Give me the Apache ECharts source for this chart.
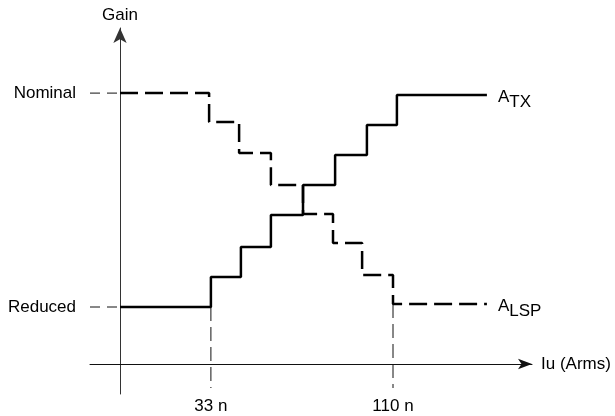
<!DOCTYPE html>
<html>
<head>
<meta charset="utf-8">
<script src="https://cdn.jsdelivr.net/npm/echarts@6.0.0/dist/echarts.min.js"></script>
<style>
  html, body { margin: 0; padding: 0; background: #ffffff; }
  #chart { width: 615px; height: 416px; }
</style>
</head>
<body>
<div id="chart"></div>
<script>
// ---- Data ----
// x in relative current units, y in relative gain units
const atxX = [0, 3.03, 4.03, 5.03, 6.1, 7.17, 8.23, 9.23, 12.23];
const atxY = [1.9, 2.9, 3.9, 4.97, 5.97, 6.97, 7.97, 8.97, 8.97];
const lspX = [0, 2.97, 3.97, 5.03, 6.1, 7.1, 8.07, 9.1, 12.23];
const lspY = [9.03, 8.07, 7.03, 5.97, 5.0, 4.03, 2.97, 2.0, 2.0];

const gainLevels = [9.03, 1.9];
const gainLabels = ['Nominal', 'Reduced'];
const currentTicks = [3.03, 9.1];
const currentLabels = ['33 n', '110 n'];
const guideTops = [1.9, 2.0];
const guideBottom = -0.8;
const xAxisStart = -1;

const seriesNames = ['A_TX', 'A_LSP'];
const seriesSubs = ['TX', 'LSP'];

// ---- Build ----
const FONT = "'Liberation Sans', Arial, Helvetica, sans-serif";
const TXT = '#000';

function pairs(xs, ys) { return xs.map((x, i) => [x, ys[i]]); }

function endLabel(sub) {
  return {
    show: true,
    distance: 11,
    offset: [0, 4.5],
    formatter: '{a|A}{s|' + sub + '}',
    rich: {
      a: { fontSize: 17, fontFamily: FONT, color: TXT, verticalAlign: 'top', padding: [0, 0, 0, 0] },
      s: { fontSize: 17, fontFamily: FONT, color: TXT, verticalAlign: 'top', padding: [5, 0, 0, 0] }
    }
  };
}

const guideSeries = currentTicks.map((x, i) => ({
  type: 'line',
  data: [[x, guideTops[i]], [x, guideBottom]],
  showSymbol: false,
  symbol: 'none',
  silent: true,
  z: 1,
  lineStyle: { color: '#111', width: 1, type: [14, 6] }
}));

const levelTickSeries = gainLevels.map(y => ({
  type: 'line',
  data: [[xAxisStart, y], [0, y]],
  showSymbol: false,
  symbol: 'none',
  silent: true,
  z: 1,
  lineStyle: { color: '#111', width: 1, type: [10, 7] }
}));

const chart = echarts.init(document.getElementById('chart'), null, { renderer: 'canvas' });
chart.setOption({
  backgroundColor: '#ffffff',
  animation: false,
  textStyle: { fontFamily: FONT },
  grid: { left: 90, top: 28, width: 442, height: 366, containLabel: false, outerBoundsMode: 'none' },
  xAxis: {
    type: 'value',
    min: xAxisStart, max: 13.733,
    name: 'Iu (Arms)',
    nameLocation: 'end',
    nameGap: 9,
    nameTextStyle: { fontSize: 17, color: TXT, fontFamily: FONT, verticalAlign: 'middle' },
    axisLine: { show: true, onZero: true, symbol: ['none', 'arrow'], symbolSize: [8, 14],
      lineStyle: { color: '#111', width: 1 } },
    axisTick: { show: false },
    splitLine: { show: false },
    axisLabel: {
      show: true,
      customValues: currentTicks,
      margin: 4,
      fontSize: 17, color: TXT, fontFamily: FONT,
      formatter: v => {
        const i = currentTicks.findIndex(t => Math.abs(t - v) < 1e-6);
        return i >= 0 ? currentLabels[i] : '';
      }
    }
  },
  yAxis: {
    type: 'value',
    min: -1, max: 11.2,
    name: 'Gain',
    nameLocation: 'end',
    nameGap: 4,
    nameTextStyle: { fontSize: 17, color: TXT, fontFamily: FONT },
    axisLine: { show: true, onZero: true, symbol: ['none', 'arrow'], symbolSize: [10, 15],
      lineStyle: { color: '#333', width: 1 } },
    axisTick: { show: false },
    splitLine: { show: false },
    axisLabel: {
      show: true,
      customValues: gainLevels,
      margin: 14,
      fontSize: 17, color: TXT, fontFamily: FONT,
      formatter: v => {
        const i = gainLevels.findIndex(t => Math.abs(t - v) < 1e-6);
        return i >= 0 ? gainLabels[i] : '';
      }
    }
  },
  series: [
    ...guideSeries,
    ...levelTickSeries,
    {
      name: seriesNames[1],
      type: 'line',
      step: 'end',
      data: pairs(lspX, lspY),
      showSymbol: false,
      symbol: 'none',
      z: 3,
      lineStyle: { color: '#000', width: 2.5, type: [18, 7] },
      endLabel: endLabel(seriesSubs[1])
    },
    {
      name: seriesNames[0],
      type: 'line',
      step: 'end',
      data: pairs(atxX, atxY),
      showSymbol: false,
      symbol: 'none',
      z: 4,
      lineStyle: { color: '#000', width: 2.5, type: 'solid' },
      endLabel: endLabel(seriesSubs[0])
    }
  ]
});
</script>
</body>
</html>
